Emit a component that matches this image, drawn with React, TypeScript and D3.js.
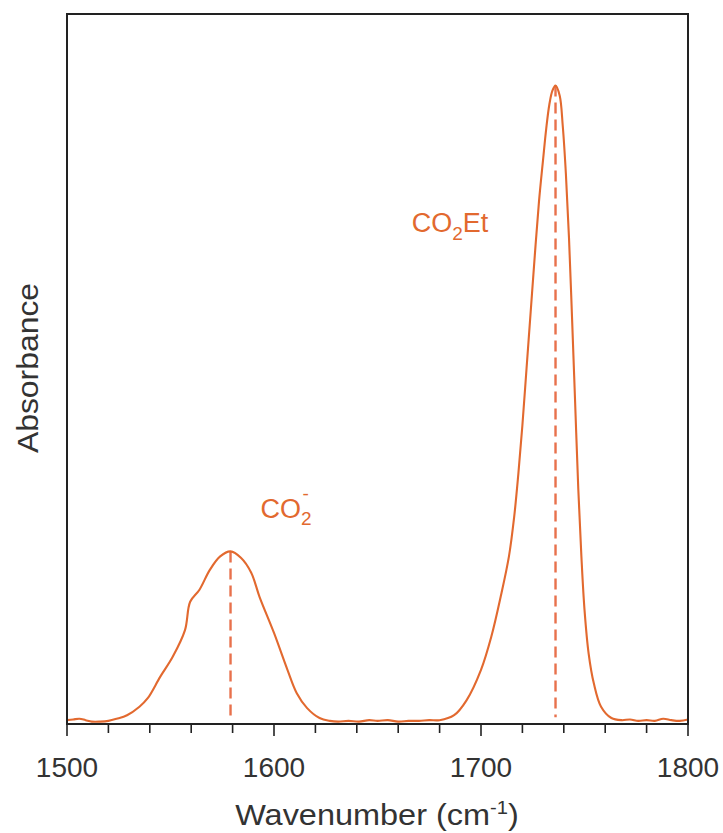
import React from "react";
import * as d3 from "d3";

// Infrared spectrum: wavenumber (cm-1) and absorbance (a.u.)
const wavenumbers = [
  1500, 1503, 1506, 1509, 1512, 1516, 1520, 1524, 1529, 1535, 1539, 1545, 1551, 1557, 1559.5,
  1564, 1569, 1574, 1579, 1584, 1589, 1593, 1600, 1606.5, 1611, 1616, 1622, 1627, 1631, 1636,
  1641, 1646, 1650, 1655, 1660, 1665, 1670, 1675, 1680, 1687, 1693, 1700, 1705, 1709.5, 1713.5,
  1716, 1718, 1720, 1722, 1724, 1726, 1728, 1730, 1731.5, 1733, 1734.5, 1736, 1738, 1739.5, 1741,
  1742.5, 1744, 1745.5, 1747, 1748.5, 1750, 1752, 1754.5, 1758, 1763, 1768, 1772, 1776, 1780,
  1784, 1788, 1792, 1796, 1800,
];
const absorbance = [
  0.004, 0.005, 0.006, 0.004, 0.002, 0.002, 0.003, 0.006, 0.011, 0.023, 0.035, 0.065, 0.093, 0.131, 0.171,
  0.188, 0.216, 0.235, 0.242, 0.233, 0.212, 0.178, 0.127, 0.075, 0.042, 0.021, 0.007, 0.003, 0.002, 0.003,
  0.002, 0.004, 0.003, 0.004, 0.002, 0.003, 0.003, 0.004, 0.004, 0.011, 0.032, 0.075, 0.122, 0.178, 0.235,
  0.29, 0.35, 0.42, 0.5, 0.58, 0.66, 0.735, 0.795, 0.838, 0.872, 0.892, 0.899, 0.885, 0.842, 0.775,
  0.685, 0.57, 0.45, 0.33, 0.235, 0.16, 0.098, 0.056, 0.023, 0.007, 0.004, 0.005, 0.003, 0.004,
  0.003, 0.006, 0.004, 0.003, 0.005,
];

// Band maxima marked with dashed lines
const peakPositions = [1579, 1736];
const peakHeights = [0.242, 0.899];

const majorTicks = [1500, 1600, 1700, 1800];
const minorTicks = d3.range(1500, 1801, 20);

const W = 723;
const H = 833;
const margin = { left: 67, right: 35, top: 14, bottom: 109 };
const ORANGE = "#e2692f";
const DASH = "#e8714c";
const FONT = "'Liberation Sans', Arial, Helvetica, sans-serif";

export default function App() {
  const x = d3
    .scaleLinear()
    .domain([1500, 1800])
    .range([margin.left, W - margin.right]);
  const y = d3
    .scaleLinear()
    .domain([0, 1])
    .range([H - margin.bottom - 1, margin.top]);

  const points = wavenumbers.map((w, i) => [w, absorbance[i]] as [number, number]);
  const line = d3
    .line<[number, number]>()
    .x((d) => x(d[0]))
    .y((d) => y(d[1]))
    .curve(d3.curveCatmullRom.alpha(0.5));

  const plotBottom = H - margin.bottom;
  const plotRight = W - margin.right;

  return (
    <svg
      width={W}
      height={H}
      style={{ position: "absolute", left: 0, top: 0, background: "#fff" }}
      fontFamily={FONT}
    >
      {/* dashed markers at the band maxima */}
      {peakPositions.map((p, i) => (
        <line
          key={p}
          x1={x(p)}
          x2={x(p)}
          y1={y(peakHeights[i])}
          y2={y(0.008)}
          stroke={DASH}
          strokeWidth={2.4}
          strokeDasharray="11,6"
        />
      ))}

      <path d={line(points) ?? ""} fill="none" stroke={ORANGE} strokeWidth={2.1} />

      {/* frame */}
      <rect
        x={margin.left}
        y={margin.top}
        width={plotRight - margin.left}
        height={plotBottom - margin.top}
        fill="none"
        stroke="#222"
        strokeWidth={2}
      />

      {/* ticks */}
      {minorTicks.map((t) => (
        <line
          key={t}
          x1={x(t)}
          x2={x(t)}
          y1={plotBottom}
          y2={plotBottom + (majorTicks.includes(t) ? 12 : 9)}
          stroke="#222"
          strokeWidth={1.6}
        />
      ))}
      {majorTicks.map((t) => (
        <text
          key={t}
          x={x(t)}
          y={777}
          textAnchor="middle"
          fontSize={28}
          fill="#333"
        >
          {t}
        </text>
      ))}

      {/* axis titles */}
      <text
        x={377}
        y={825}
        textAnchor="middle"
        fontSize={29}
        fill="#333"
        transform="translate(377,0) scale(1.12,1) translate(-377,0)"
      >
        Wavenumber (cm
        <tspan dy={-11} fontSize={18}>
          -1
        </tspan>
        <tspan dy={11}>)</tspan>
      </text>
      <text
        transform="translate(38,368) rotate(-90) scale(1.1,1)"
        textAnchor="middle"
        fontSize={29}
        fill="#333"
      >
        Absorbance
      </text>

      {/* band labels */}
      <text x={x(1593.5)} y={y(0.289)} fontSize={27} fill={ORANGE}>
        CO
        <tspan dy={7} fontSize={19}>
          2
        </tspan>
        <tspan dx={-9} dy={-25} fontSize={19}>
          -
        </tspan>
      </text>

      <text x={x(1666.5)} y={y(0.692)} fontSize={27} fill={ORANGE}>
        CO
        <tspan dy={8} fontSize={19}>
          2
        </tspan>
        <tspan dy={-8}>Et</tspan>
      </text>
    </svg>
  );
}
